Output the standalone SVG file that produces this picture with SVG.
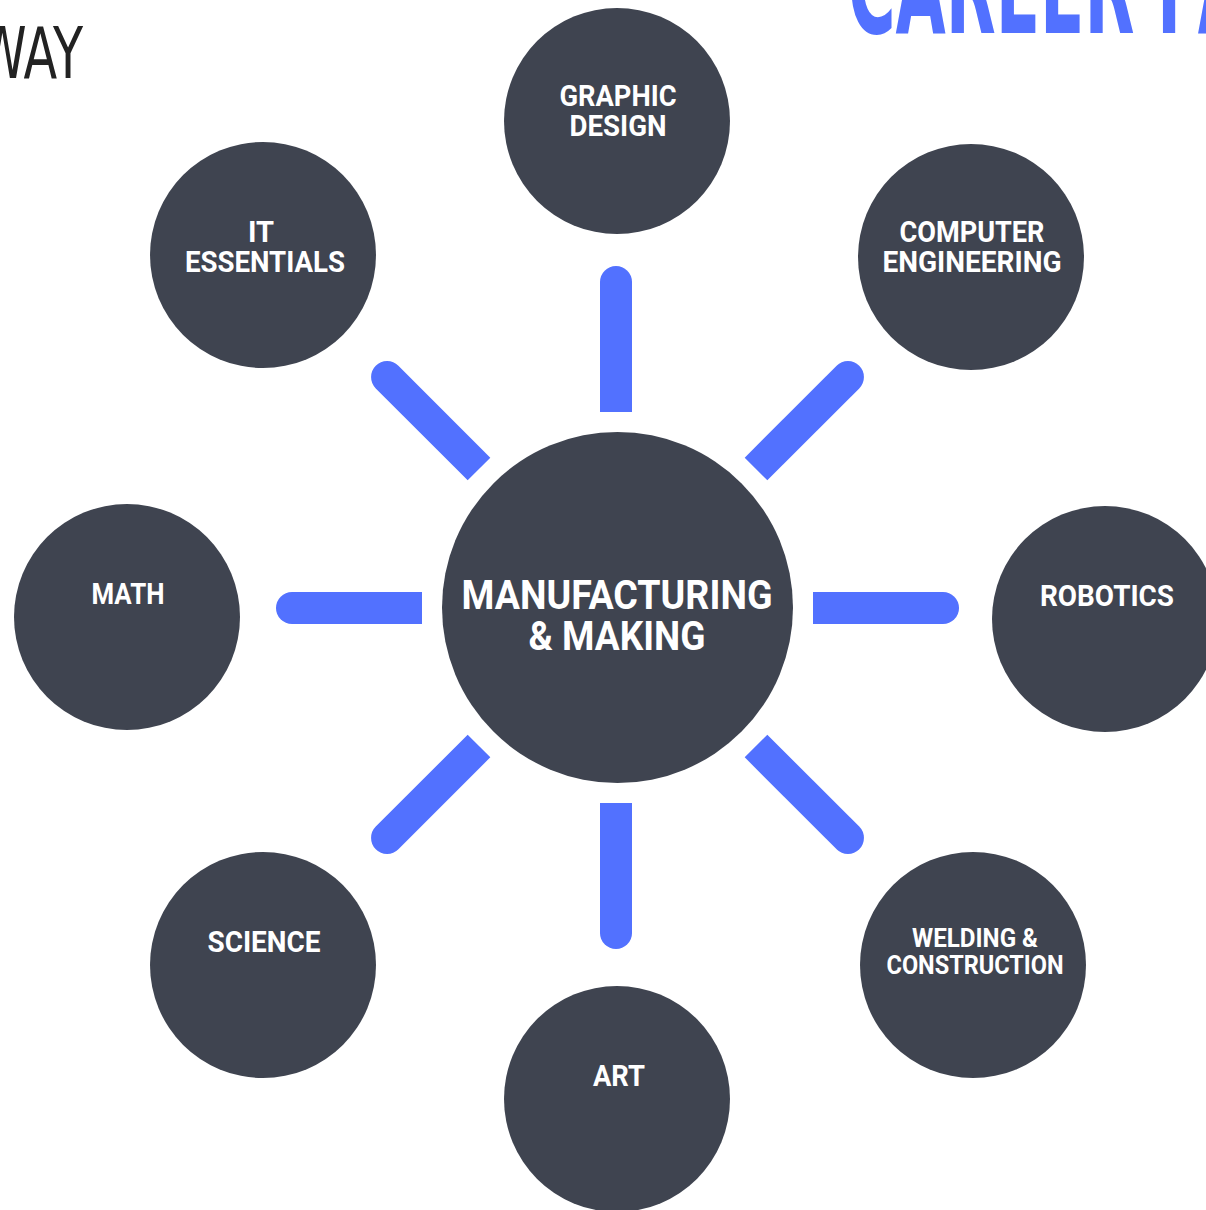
<svg xmlns="http://www.w3.org/2000/svg" xmlns:xlink="http://www.w3.org/1999/xlink" width="1206" height="1210" viewBox="0 0 1206 1210">
<style>
.node{fill:#3F4450}
.lbl{fill:#FFFFFF;font-family:Roboto,"Liberation Sans",Arial,sans-serif;font-weight:bold;text-anchor:middle}
.bar{fill:#5271FF}
</style>
<defs>
<path id="bar" d="M0,-16 H130 A16,16 0 0 1 130,16 H0 Z"/>
</defs>
<rect width="1206" height="1210" fill="#FFFFFF"/>
<text x="83" y="78" font-family="'Liberation Sans Narrow','DejaVu Sans Condensed',sans-serif" font-size="72" fill="#222222" text-anchor="end" textLength="105" lengthAdjust="spacingAndGlyphs">WAY</text>
<text x="848" y="33" font-family="'Liberation Sans Narrow','DejaVu Sans Condensed',sans-serif" font-weight="bold" font-size="130" fill="#5271FF" textLength="400" lengthAdjust="spacingAndGlyphs">CAREER PA</text>
<g id="connectors" class="bar">
<use xlink:href="#bar" transform="translate(616,412) rotate(-90)"/>
<use xlink:href="#bar" transform="translate(422,608) rotate(180)"/>
<use xlink:href="#bar" transform="translate(813,608)"/>
<use xlink:href="#bar" transform="translate(616,803) rotate(90)"/>
<use xlink:href="#bar" transform="translate(479,469) rotate(-135)"/>
<use xlink:href="#bar" transform="translate(756,469) rotate(-45)"/>
<use xlink:href="#bar" transform="translate(479,746) rotate(135)"/>
<use xlink:href="#bar" transform="translate(756,746) rotate(45)"/>
</g>
<g id="center">
<circle class="node" cx="617.5" cy="607.5" r="175.5"/>
<text class="lbl" x="617" y="609" font-size="40" textLength="311" lengthAdjust="spacingAndGlyphs">MANUFACTURING</text>
<text class="lbl" x="617" y="650" font-size="40" textLength="177" lengthAdjust="spacingAndGlyphs">&amp; MAKING</text>
</g>
<g id="graphic-design">
<circle class="node" cx="617" cy="121" r="113"/>
<text class="lbl" x="618" y="106" font-size="29" textLength="117" lengthAdjust="spacingAndGlyphs">GRAPHIC</text>
<text class="lbl" x="618" y="136" font-size="29" textLength="97" lengthAdjust="spacingAndGlyphs">DESIGN</text>
</g>
<g id="it-essentials">
<circle class="node" cx="263" cy="255" r="113"/>
<text class="lbl" x="261" y="242" font-size="29">IT</text>
<text class="lbl" x="265" y="272" font-size="29" textLength="160" lengthAdjust="spacingAndGlyphs">ESSENTIALS</text>
</g>
<g id="computer-engineering">
<circle class="node" cx="971" cy="257" r="113"/>
<text class="lbl" x="972" y="242" font-size="29" textLength="145" lengthAdjust="spacingAndGlyphs">COMPUTER</text>
<text class="lbl" x="972" y="272" font-size="29" textLength="179" lengthAdjust="spacingAndGlyphs">ENGINEERING</text>
</g>
<g id="math">
<circle class="node" cx="127" cy="617" r="113"/>
<text class="lbl" x="128" y="604" font-size="29" textLength="73" lengthAdjust="spacingAndGlyphs">MATH</text>
</g>
<g id="robotics">
<circle class="node" cx="1105" cy="619" r="113"/>
<text class="lbl" x="1107" y="606" font-size="29" textLength="134" lengthAdjust="spacingAndGlyphs">ROBOTICS</text>
</g>
<g id="science">
<circle class="node" cx="263" cy="965" r="113"/>
<text class="lbl" x="264" y="952" font-size="29" textLength="113" lengthAdjust="spacingAndGlyphs">SCIENCE</text>
</g>
<g id="art">
<circle class="node" cx="617" cy="1099" r="113"/>
<text class="lbl" x="619" y="1086" font-size="29" textLength="52" lengthAdjust="spacingAndGlyphs">ART</text>
</g>
<g id="welding-construction">
<circle class="node" cx="973" cy="965" r="113"/>
<text class="lbl" x="975" y="947" font-size="26" textLength="126" lengthAdjust="spacingAndGlyphs">WELDING &amp;</text>
<text class="lbl" x="975" y="974" font-size="26" textLength="177" lengthAdjust="spacingAndGlyphs">CONSTRUCTION</text>
</g>
</svg>
